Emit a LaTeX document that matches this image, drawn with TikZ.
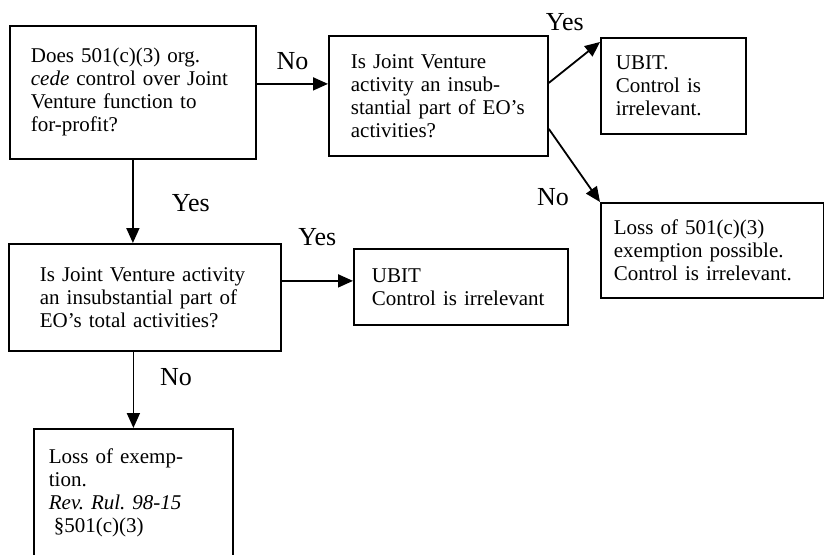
\documentclass[tikz,border=0pt]{standalone}
\usepackage{fontspec}
\setmainfont{Liberation Serif}
\usepackage{tikz}
\usetikzlibrary{arrows.meta}
\usetikzlibrary{positioning}
\tikzset{
  flow chart/.style={
    box/.style={draw, line width=1.8pt, anchor=north west, align=left,
      inner ysep=0pt, font={\fontsize{21}{23}\selectfont}},
    arrow/.style={line width=1.8pt, -{Triangle[length=15pt,width=13pt]}},
    answer/.style={font={\fontsize{26}{28}\selectfont}},
  }
}

\begin{document}
\begin{tikzpicture}
[
    flow chart,
    x=1pt, y=-1pt
]
    \useasboundingbox (0,0) rectangle (824,554);
    \clip (0,0) rectangle (824,554);

    \node[box, minimum width=246pt, minimum height=133pt, inner xsep=21pt, text width=204pt] (cede) at (9,25)
        {Does 501(c)(3) org.\\ \emph{cede} control over Joint\\ Venture function to\\ for-profit?};
    \node[box, minimum width=219pt, minimum height=120pt, inner xsep=22pt, text width=175pt] (insub) at (328,35)
        {Is Joint Venture\\ activity an insub-\\ stantial part of EO's\\ activities?};
    \node[box, minimum width=145pt, minimum height=96pt, inner xsep=15pt, text width=115pt] (ubit) at (600,37)
        {UBIT.\\ Control is\\ irrelevant.};
    \node[box, minimum width=223pt, minimum height=95pt, inner xsep=13pt, text width=197pt] (loss) at (600,202)
        {Loss of 501(c)(3)\\ exemption possible.\\ Control is irrelevant.};
    \node[box, minimum width=272pt, minimum height=107pt, inner xsep=31pt, text width=210pt] (insubtotal) at (8,243)
        {Is Joint Venture activity\\ an insubstantial part of\\ EO's total activities?};
    \node[box, minimum width=214pt, minimum height=76pt, inner xsep=18pt, text width=178pt] (ubitplain) at (353,248)
        {UBIT\\ Control is irrelevant};
    \node[box, minimum width=199pt, inner xsep=15pt, inner ysep=20pt, text width=169pt] (lossexempt) at (33,428)
        {Loss of exemp-\\ tion.\\ \emph{Rev.\ Rul.\ 98-15}\\ \hspace{5pt}\S501(c)(3)\rule[-40pt]{0pt}{40pt}};

    \draw[arrow] ([yshift=8.5pt]cede.east) -- ([yshift=8.5pt]cede.east -| insub.west)
        node[answer, midway, yshift=23pt] {No};
    \draw[arrow] ([yshift=13pt]insub.east) -- ([yshift=-5pt]ubit.north west)
        node[answer, midway, xshift=-9.5pt, yshift=40pt] {Yes};
    \draw[arrow] ([yshift=-33pt]insub.east) -- (loss.north west)
        node[answer, midway, xshift=-21.5pt, yshift=-32pt] {No};
    \draw[arrow] (cede.south) -- (cede.south |- insubtotal.north)
        node[answer, midway, xshift=58pt, yshift=-1.5pt] {Yes};
    \draw[arrow] ([yshift=16.5pt]insubtotal.east) -- ([yshift=16.5pt]insubtotal.east -| ubitplain.west)
        node[answer, midway, yshift=44pt] {Yes};
    \draw[arrow] (lossexempt.north |- insubtotal.south) -- (lossexempt.north)
        node[answer, midway, xshift=42.5pt, yshift=13pt] {No};
\end{tikzpicture}
\end{document}
